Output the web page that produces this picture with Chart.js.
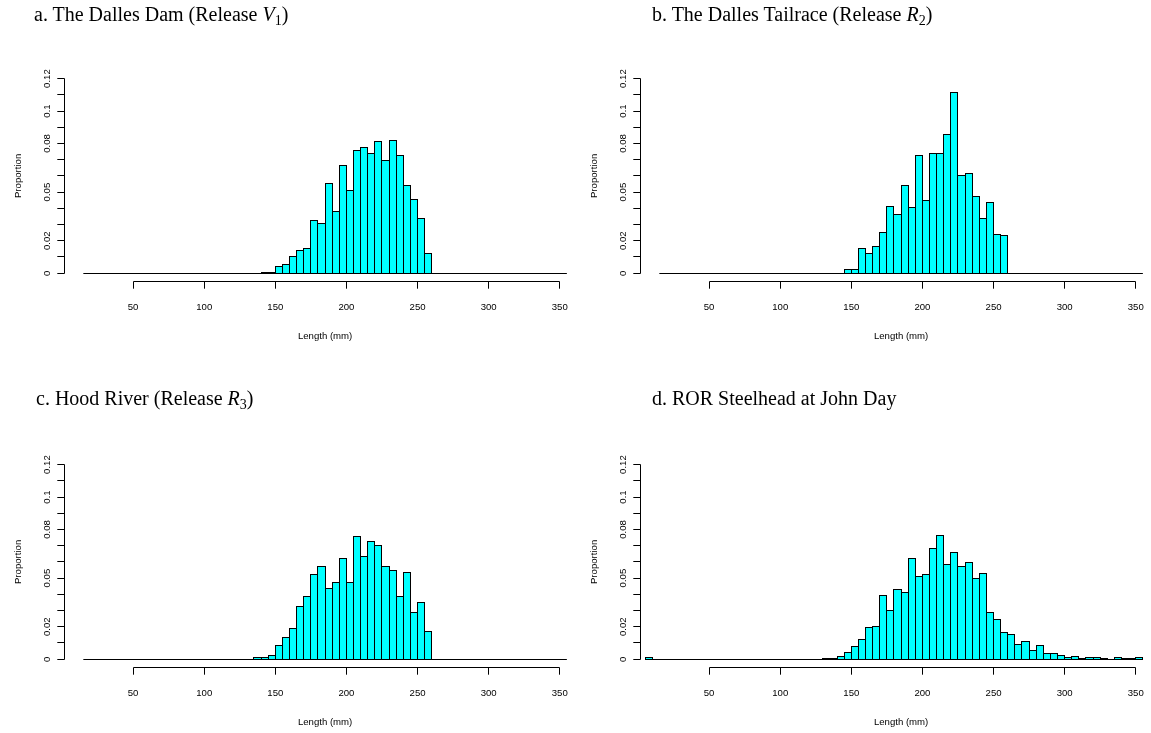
<!DOCTYPE html>
<html lang="en">
<head>
<meta charset="UTF-8">
<title>Length distributions by release</title>
<script src="https://cdn.jsdelivr.net/npm/chart.js"></script>
<style>
  body {
    margin: 0;
    background: #fff;
    width: 1151px;
    height: 733px;
    position: relative;
    overflow: hidden;
  }
  canvas { position: absolute; }
  .title {
    position: absolute;
    z-index: 2;
    font-family: 'Liberation Serif', 'Times New Roman', serif;
    font-size: 20px;
    line-height: 20px;
    color: #000;
    white-space: nowrap;
  }
  .title sub {
    font-size: 14px;
    line-height: 0;
    vertical-align: -4px;
  }
</style>
</head>
<body>
  <canvas id="panelA" width="575" height="386" style="left:0;top:0"></canvas>
  <canvas id="panelB" width="575" height="386" style="left:576px;top:0"></canvas>
  <canvas id="panelC" width="575" height="347" style="left:0;top:386px"></canvas>
  <canvas id="panelD" width="575" height="347" style="left:576px;top:386px"></canvas>

  <div class="title" style="left:34px;top:4px">a. The Dalles Dam (Release <i>V</i><sub>1</sub>)</div>
  <div class="title" style="left:652px;top:4px">b. The Dalles Tailrace (Release <i>R</i><sub>2</sub>)</div>
  <div class="title" style="left:36px;top:388px">c. Hood River (Release <i>R</i><sub>3</sub>)</div>
  <div class="title" style="left:652px;top:388px">d. ROR Steelhead at John Day</div>

<script>
// 5 mm length bins; releases start at 15 mm, the John Day sample at 5 mm
const binWidth = 5;
const releaseBinStart = 15;
const johnDayBinStart = 5;

const damV1 = [
  0, 0, 0, 0, 0, 0, 0, 0, 0, 0, 0, 0, 0, 0, 0, 0, 0, 0, 0, 0, 0, 0, 0, 0, 0,
  0.0005, 0.0005, 0.0043, 0.0053, 0.0105, 0.0142, 0.0152, 0.0328, 0.0308, 0.0556,
  0.0383, 0.0665, 0.0513, 0.0759, 0.0773, 0.0737, 0.081, 0.0697, 0.0817, 0.0724,
  0.054, 0.0455, 0.0336, 0.0121,
  0, 0, 0, 0, 0, 0, 0, 0, 0, 0, 0, 0, 0, 0, 0, 0, 0, 0, 0
];

const tailraceR2 = [
  0, 0, 0, 0, 0, 0, 0, 0, 0, 0, 0, 0, 0, 0, 0, 0, 0, 0, 0, 0, 0, 0, 0, 0, 0, 0,
  0.0023, 0.0023, 0.015, 0.0123, 0.0162, 0.0252, 0.041, 0.0365, 0.0542, 0.0404,
  0.0724, 0.0449, 0.074, 0.074, 0.0855, 0.1114, 0.0603, 0.0615, 0.0474, 0.0338,
  0.0439, 0.024, 0.023,
  0, 0, 0, 0, 0, 0, 0, 0, 0, 0, 0, 0, 0, 0, 0, 0, 0, 0, 0
];

const hoodR3 = [
  0, 0, 0, 0, 0, 0, 0, 0, 0, 0, 0, 0, 0, 0, 0, 0, 0, 0, 0, 0, 0, 0, 0, 0,
  0.0012, 0.0012, 0.0023, 0.0086, 0.0135, 0.0187, 0.0326, 0.0386, 0.0525, 0.0574,
  0.0439, 0.0476, 0.0624, 0.0476, 0.0759, 0.0636, 0.0724, 0.07, 0.0574, 0.0546,
  0.0386, 0.0537, 0.0287, 0.0349, 0.0172,
  0, 0, 0, 0, 0, 0, 0, 0, 0, 0, 0, 0, 0, 0, 0, 0, 0, 0, 0
];

const johnDayROR = [
  0.0008,
  0, 0, 0, 0, 0, 0, 0, 0, 0, 0, 0, 0, 0, 0, 0, 0, 0, 0, 0, 0, 0, 0, 0, 0,
  0.0004, 0.0005, 0.0018, 0.0043, 0.008, 0.0123, 0.0195, 0.0203, 0.039, 0.030,
  0.0431, 0.0412, 0.0624, 0.0509, 0.0521, 0.0681, 0.0763, 0.0583, 0.0657, 0.0574,
  0.0597, 0.0497, 0.0527, 0.0289, 0.0242, 0.0166, 0.0154, 0.0088, 0.0111, 0.0053,
  0.0082, 0.0037, 0.0037, 0.002, 0.001, 0.0018, 0.0006, 0.0012, 0.0012, 0.0004,
  0, 0.0012, 0.0004, 0.0004, 0.0008
];

const xTicks = [50, 100, 150, 200, 250, 300, 350];
const yTicks = [0, 0.01, 0.02, 0.03, 0.04, 0.05, 0.06, 0.07, 0.08, 0.09, 0.1, 0.11, 0.12];
const yLabelValues = [0, 0.02, 0.05, 0.08, 0.1, 0.12];
const yLabels = ['0', '0.02', '0.05', '0.08', '0.1', '0.12'];

const AXIS_FONT = '9.6px "Liberation Sans", Arial, sans-serif';
const LINE = 14.4;   // one margin line in px
const TICK = 7.2;

const crisp = v => Math.round(v - 0.5) + 0.5;

// R-style axes, baseline and bar outlines
const rStyle = {
  id: 'rStyle',
  afterDatasetsDraw(chart) {
    const ctx = chart.ctx;
    const x = chart.scales.x, y = chart.scales.y;
    const area = chart.chartArea;
    const ds = chart.data.datasets[0];
    const values = ds.data;
    ctx.save();
    ctx.strokeStyle = '#000';
    ctx.lineWidth = 1;

    // zero-height bins show up as a line
    const y0 = crisp(y.getPixelForValue(0));
    ctx.beginPath();
    ctx.moveTo(x.getPixelForValue(ds.binStart), y0);
    ctx.lineTo(x.getPixelForValue(ds.binStart + binWidth * values.length), y0);
    ctx.stroke();

    chart.getDatasetMeta(0).data.forEach((bar, i) => {
      if (values[i].y <= 0) return;
      const p = bar.getProps(['x', 'y', 'base', 'width'], true);
      const l = crisp(p.x - p.width / 2), r = crisp(p.x + p.width / 2);
      const t = crisp(p.y), b = crisp(p.base);
      ctx.strokeRect(l, t, r - l, b - t);
    });

    // x axis
    const xb = crisp(area.bottom);
    ctx.beginPath();
    ctx.moveTo(crisp(x.getPixelForValue(xTicks[0])), xb);
    ctx.lineTo(crisp(x.getPixelForValue(xTicks[xTicks.length - 1])), xb);
    xTicks.forEach(v => {
      const px = crisp(x.getPixelForValue(v));
      ctx.moveTo(px, xb);
      ctx.lineTo(px, xb + TICK);
    });
    ctx.stroke();
    ctx.fillStyle = '#000';
    ctx.font = AXIS_FONT;
    ctx.textAlign = 'center';
    ctx.textBaseline = 'alphabetic';
    xTicks.forEach(v => ctx.fillText(String(v), x.getPixelForValue(v), area.bottom + 2 * LINE));
    ctx.fillText('Length (mm)', x.getPixelForValue(185), area.bottom + 4 * LINE);

    // y axis
    const yl = crisp(area.left);
    ctx.beginPath();
    ctx.moveTo(yl, crisp(y.getPixelForValue(yTicks[0])));
    ctx.lineTo(yl, crisp(y.getPixelForValue(yTicks[yTicks.length - 1])));
    yTicks.forEach(v => {
      const py = crisp(y.getPixelForValue(v));
      ctx.moveTo(yl, py);
      ctx.lineTo(yl - TICK, py);
    });
    ctx.stroke();
    yLabelValues.forEach((v, i) => {
      ctx.save();
      ctx.translate(area.left - LINE, y.getPixelForValue(v));
      ctx.rotate(-Math.PI / 2);
      ctx.fillText(yLabels[i], 0, 0);
      ctx.restore();
    });
    ctx.save();
    ctx.translate(area.left - 3 * LINE, y.getPixelForValue(0.06));
    ctx.rotate(-Math.PI / 2);
    ctx.fillText('Proportion', 0, 0);
    ctx.restore();

    ctx.restore();
  }
};

function makePanel(id, values, start, bottomPad) {
  const points = values.map((v, i) => ({ x: start + binWidth * i + binWidth / 2, y: v }));
  return new Chart(document.getElementById(id), {
    type: 'bar',
    data: {
      datasets: [{
        data: points,
        binStart: start,
        backgroundColor: '#00FFFF',
        borderWidth: 0,
        inflateAmount: 0,
        barPercentage: 1,
        categoryPercentage: 1
      }]
    },
    options: {
      responsive: false,
      animation: false,
      devicePixelRatio: 1,
      layout: { padding: { left: 64, right: 5, top: 70.8, bottom: bottomPad } },
      scales: {
        x: { type: 'linear', min: 1.4, max: 357.2, offset: false, display: false },
        y: { min: -0.0048, max: 0.1248, display: false }
      },
      plugins: { legend: { display: false }, tooltip: { enabled: false } }
    },
    plugins: [rStyle]
  });
}

makePanel('panelA', damV1, releaseBinStart, 105);
makePanel('panelB', tailraceR2, releaseBinStart, 105);
makePanel('panelC', hoodR3, releaseBinStart, 66);
makePanel('panelD', johnDayROR, johnDayBinStart, 66);
</script>
</body>
</html>
